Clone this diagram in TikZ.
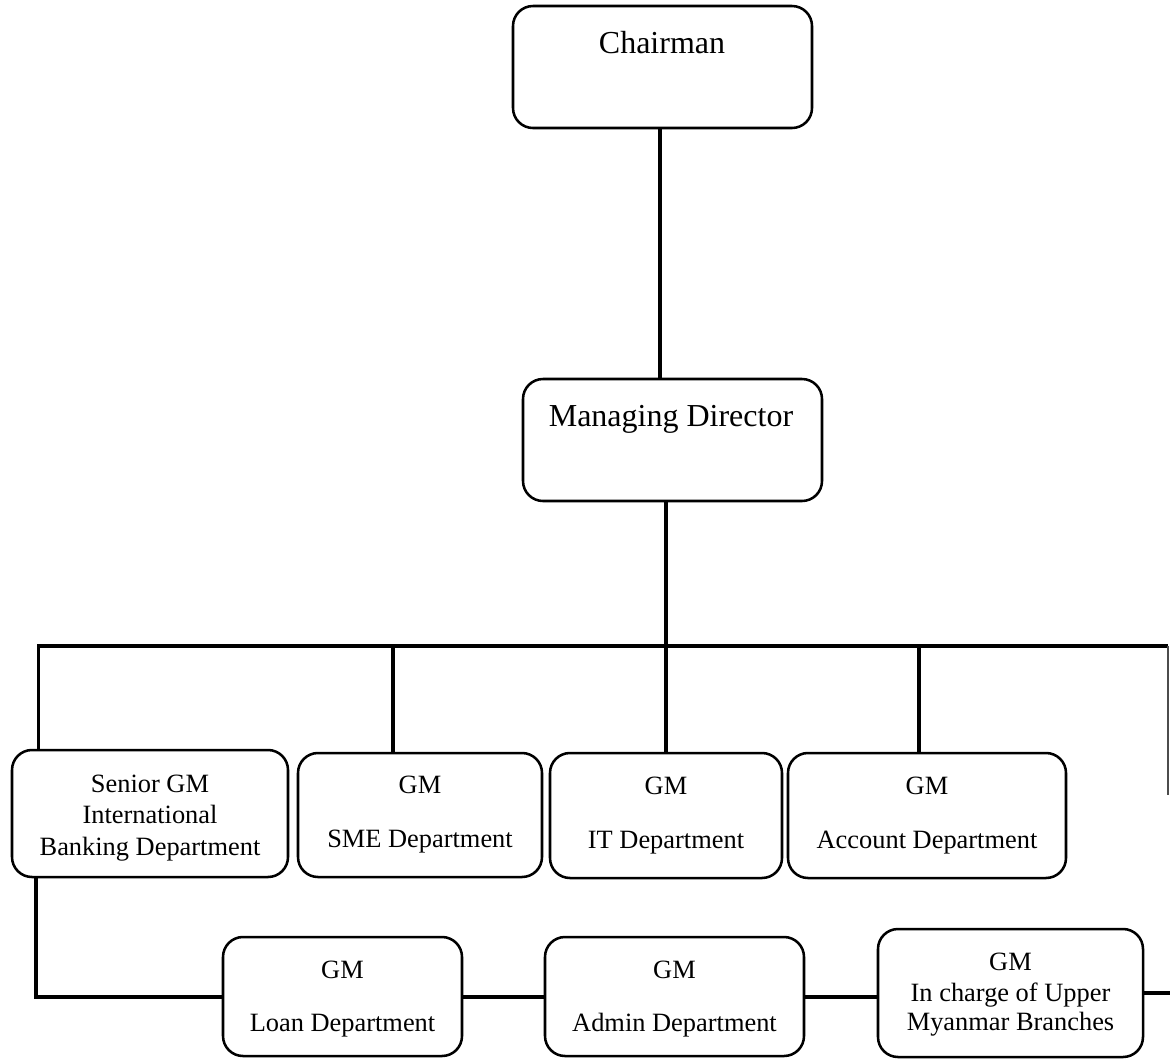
\documentclass[tikz,border=0pt]{standalone}
\usepackage{fontspec}
\setmainfont{Liberation Serif}
\begin{document}
\begin{tikzpicture}[x=0.75pt,y=-0.75pt,
  bx/.style 2 args={draw=black, line width=1.9pt, rounded corners=15pt,
    minimum width=#1*0.75pt, minimum height=#2*0.75pt, inner sep=0pt},
  tx/.style={anchor=base, inner sep=0pt, font=\fontsize{19.8}{23}\selectfont},
  big/.style={anchor=base, inner sep=0pt, font=\fontsize{24}{28}\selectfont},
  conn/.style={line width=3pt, draw=black},
  busline/.style={line width=2.4pt, draw=black}]
\useasboundingbox[fill=white] (0,0) rectangle (1170,1058);

% boxes
\node[bx={299}{122}] (ch)  at (662.5,67) {};
\node[bx={299}{122}] (md)  at (672.5,440) {};
\node[bx={276}{127}] (sgm) at (150,813.5) {};
\node[bx={244}{124}] (sme) at (420,815) {};
\node[bx={232}{125}] (it)  at (666,815.5) {};
\node[bx={278}{125}] (acc) at (927,815.5) {};
\node[bx={239}{119}] (loan) at (342.5,996.5) {};
\node[bx={259}{119}] (adm) at (674.5,996.5) {};
\node[bx={265}{128}] (upm) at (1010.5,993) {};

% texts
\node[big] (chT) at (662,53) {Chairman};
\node[big] (mdT) at (671,426) {Managing Director};
\node[tx] (sgmA) at (150,792) {Senior GM};
\node[tx] (sgmB) at (150,823) {International};
\node[tx] (sgmC) at (150,855) {Banking Department};
\node[tx] (smeA) at (420,793) {GM};
\node[tx] (smeB) at (420,847) {SME Department};
\node[tx] (itA) at (666,794) {GM};
\node[tx] (itB) at (666,848) {IT Department};
\node[tx] (accA) at (927,794) {GM};
\node[tx] (accB) at (927,848) {Account Department};
\node[tx] (loanA) at (342.5,978) {GM};
\node[tx] (loanB) at (342.5,1031) {Loan Department};
\node[tx] (admA) at (674.5,978) {GM};
\node[tx] (admB) at (674.5,1031) {Admin Department};
\node[tx] (upmA) at (1010.5,970) {GM};
\node[tx] (upmB) at (1010.5,1001) {In charge of Upper};
\node[tx] (upmC) at (1010.5,1030) {Myanmar Branches};

% free ends
\coordinate (busR) at (1168,646);
\coordinate (rEnd) at (1168,795);
\coordinate (rStub) at (1172,993);

% connectors
\draw[conn] (ch.south -| 660,0) -- (md.north -| 660,0);
\draw[conn] (md.south -| it.north) -- (it.north);
\draw[busline] ([xshift=21pt]sgm.north west) |- (busR);
\draw[line width=1.5pt, draw=black!70] (busR) -- (rEnd);
\draw[conn] ([xshift=-20.25pt]sme.north) -- ([xshift=-20.25pt]sme.north |- busR);
\draw[conn] ([xshift=-6pt]acc.north) -- ([xshift=-6pt]acc.north |- busR);
\draw[conn] ([xshift=18.75pt]sgm.south west) |- (loan.west);
\draw[conn] (loan.east) -- (adm.west);
\draw[conn] (adm.east) -- (adm.east -| upm.west);
\draw[conn] (upm.east) -- (rStub);
\end{tikzpicture}
\end{document}
